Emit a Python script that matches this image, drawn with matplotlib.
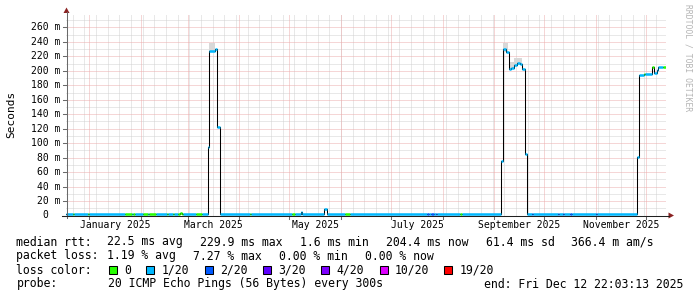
import matplotlib
matplotlib.use("Agg")
import matplotlib.pyplot as plt
import matplotlib.dates as mdates
from matplotlib.transforms import IdentityTransform, blended_transform_factory
from matplotlib.lines import Line2D
from matplotlib.patches import Rectangle, Polygon
import numpy as np
import pandas as pd

W, H = 697, 297
MONO = "DejaVu Sans Mono"

# time range of the graph (last 360 days)
t_start = pd.Timestamp("2024-12-17 22:03:13")
t_end = pd.Timestamp("2025-12-12 22:03:13")

# loss colours (smokeping defaults)
loss_colors = ["#26ff00", "#00b8ff", "#0059ff", "#5e00ff", "#7e00ff", "#dd00ff", "#ff0000"]
loss_labels = ["0", "1/20", "2/20", "3/20", "4/20", "10/20", "19/20"]

# median rtt as steps: start time, median (ms), loss level
step_time = [
    "2024-12-17 22:03", "2024-12-22 05:00", "2024-12-22 19:00", "2024-12-31 05:00",
    "2024-12-31 19:00", "2025-01-22 14:00", "2025-01-26 14:00", "2025-01-27 05:00",
    "2025-01-28 05:00", "2025-02-02 05:00", "2025-02-05 00:00", "2025-02-05 19:00",
    "2025-02-10 05:00", "2025-02-16 19:00", "2025-02-17 10:00", "2025-02-20 10:00",
    "2025-02-21 00:00", "2025-02-23 05:00", "2025-02-24 02:00", "2025-02-25 14:00",
    "2025-02-26 05:00", "2025-03-05 19:00", "2025-03-09 19:00", "2025-03-13 00:00",
    "2025-03-14 00:00", "2025-03-17 10:00", "2025-03-18 19:00", "2025-03-20 05:00",
    "2025-04-07 10:00", "2025-04-08 00:00", "2025-05-02 14:00", "2025-05-04 10:00",
    "2025-05-08 00:00", "2025-05-08 19:00", "2025-05-21 19:00", "2025-05-23 19:00",
    "2025-06-03 10:00", "2025-06-06 10:00", "2025-07-22 19:00", "2025-07-23 19:00",
    "2025-07-24 19:00", "2025-07-26 19:00", "2025-07-27 19:00", "2025-07-28 19:00",
    "2025-08-11 14:00", "2025-08-12 10:00", "2025-09-05 05:00", "2025-09-06 00:00",
    "2025-09-08 05:00", "2025-09-09 19:00", "2025-09-11 05:00", "2025-09-12 14:00",
    "2025-09-14 14:00", "2025-09-16 10:00", "2025-09-17 14:00", "2025-09-19 05:00",
    "2025-09-20 14:00", "2025-09-23 19:00", "2025-09-24 10:00", "2025-10-09 05:00",
    "2025-10-09 19:00", "2025-10-12 05:00", "2025-10-12 19:00", "2025-10-16 10:00",
    "2025-10-17 14:00", "2025-11-01 05:00", "2025-11-01 19:00", "2025-11-25 10:00",
    "2025-11-26 14:00", "2025-11-30 00:00", "2025-11-30 14:00", "2025-12-04 14:00",
    "2025-12-06 00:00", "2025-12-07 10:00", "2025-12-08 10:00", "2025-12-11 10:00",
]
step_median = [
    2.0, 2.0, 2.0, 2.0,
    2.0, 2.0, 2.0, 2.0,
    2.0, 2.0, 2.0, 2.0,
    2.0, 2.0, 2.0, 2.0,
    2.0, 2.0, 4.0, 2.0,
    2.0, 2.0, 2.0, 95.0,
    227.0, 230.0, 123.0, 2.0,
    2.0, 2.0, 2.0, 2.0,
    5.0, 2.0, 9.0, 2.0,
    2.0, 2.0, 2.0, 2.0,
    2.0, 2.0, 2.0, 2.0,
    2.0, 2.0, 75.0, 230.0,
    226.0, 202.0, 204.0, 208.0,
    211.0, 210.0, 203.0, 85.0,
    2.0, 2.0, 2.0, 2.0,
    2.0, 2.0, 2.0, 2.0,
    2.0, 2.0, 2.0, 81.0,
    194.5, 195.5, 195.5, 205.0,
    196.5, 201.0, 205.0, 205.5,
]
step_loss = [
    1, 0, 1, 0,
    1, 0, 1, 0,
    1, 0, 1, 0,
    1, 0, 1, 0,
    1, 0, 0, 0,
    1, 0, 1, 1,
    1, 1, 1, 1,
    0, 1, 0, 1,
    1, 1, 1, 1,
    0, 1, 2, 1,
    2, 1, 2, 1,
    0, 1, 1, 1,
    1, 1, 1, 1,
    1, 1, 1, 1,
    1, 2, 1, 2,
    1, 2, 1, 2,
    1, 2, 1, 1,
    1, 0, 1, 0,
    1, 1, 1, 0,
]

# smoke (spread of the pings) above the median
smoke_from = ["2025-03-14 00:00", "2025-09-06 00:00", "2025-09-09 19:00", "2025-09-12 14:00"]
smoke_to = ["2025-03-17 10:00", "2025-09-09 00:00", "2025-09-12 14:00", "2025-09-17 14:00"]
smoke_low = [227.0, 226.0, 202.0, 208.0]
smoke_high = [238.0, 239.0, 212.0, 218.0]

# month names shown on the time axis
label_months = ["2025-01", "2025-03", "2025-05", "2025-07", "2025-09", "2025-11"]

fig = plt.figure(figsize=(W / 100, H / 100), dpi=100, facecolor="white")
px_per_ms = 188 / 260.0
ymax = 202 / px_per_ms
ax = fig.add_axes([66 / W, (H - 215.5) / H, 600 / W, 202 / H])
ax.set_axis_off()
x0 = mdates.date2num(t_start)
x1 = mdates.date2num(t_end)
ax.set_xlim(x0, x1)
ax.set_ylim(0, ymax)
pix = IdentityTransform()

# grid: fine dotted lines
dot = (0, (1, 1))
gkw = dict(linestyles=dot, lw=0.72)
weeks = mdates.date2num(pd.date_range(t_start.normalize(), t_end, freq="W-SUN"))
months = mdates.date2num(pd.date_range("2025-01-01", t_end, freq="MS"))
minor_y = [v for v in range(10, int(ymax) + 1, 10) if v % 20]
major_y = [v for v in range(20, int(ymax) + 1, 20)]
ax.vlines(weeks, 0, ymax, colors="#d2d2d2", zorder=1, **gkw)
ax.hlines(minor_y, x0, x1 + 1.5, colors="#d2d2d2", zorder=1, **gkw)
ax.vlines(months, 0, ymax, colors="#ecaeae", zorder=1.5, **gkw)
ax.hlines(major_y, x0, x1 + 1.5, colors="#ecaeae", zorder=1.5, **gkw)

# smoke
for a, b, lo, hi in zip(smoke_from, smoke_to, smoke_low, smoke_high):
    ax.fill_between([mdates.date2num(pd.Timestamp(a)), mdates.date2num(pd.Timestamp(b))],
                    lo, hi, color="#d8d8d8", lw=0, zorder=2)

# median line
t = mdates.date2num(pd.to_datetime(step_time))
t_next = np.append(t[1:], x1)
ax.step(np.append(t, x1), step_median + [step_median[-1]], where="post",
        color="black", lw=0.75, zorder=3)
ax.hlines(step_median, t, t_next, colors=[loss_colors[i] for i in step_loss],
          lw=1.8, zorder=4)

# axes lines and arrows
fig.add_artist(Line2D([66.5, 66.5], [H - 218, H - 12], color="#6a6a6a", lw=0.75, transform=pix))
fig.add_artist(Line2D([62, 669], [H - 215.5, H - 215.5], color="#202020", lw=0.75, transform=pix))
fig.add_artist(Polygon([[63.5, H - 13], [69.5, H - 13], [66.5, H - 7.5]], closed=True,
                       color="#8b2323", lw=0, transform=pix))
fig.add_artist(Polygon([[668.5, H - 212.5], [668.5, H - 218.5], [674, H - 215.5]], closed=True,
                       color="#8b2323", lw=0, transform=pix))

# tick marks and labels
ytr = blended_transform_factory(pix, ax.transData)
for v in range(0, 261, 20):
    ax.add_line(Line2D([63, 66.5], [v, v], color="#6a6a6a", lw=0.75, transform=ytr, clip_on=False))
    if v == 0:
        ax.text(48.5, v, "0", transform=ytr, ha="right", va="center", fontsize=7, family=MONO)
    else:
        ax.text(60.5, v, f"{v} m", transform=ytr, ha="right", va="center", fontsize=7, family=MONO)

xtr = blended_transform_factory(ax.transData, pix)
for m in months:
    ax.add_line(Line2D([m, m], [H - 215.5, H - 218.5], color="#6a6a6a", lw=0.75,
                       transform=xtr, clip_on=False))
for lm in label_months:
    ms = pd.Timestamp(lm + "-01")
    mid = ms + pd.Timedelta(days=ms.days_in_month / 2)
    ax.text(mdates.date2num(mid), H - 225, ms.strftime("%B %Y"), transform=xtr,
            ha="center", va="center", fontsize=7, family=MONO)

fig.text(11, H - 114, "Seconds", transform=pix, rotation=90, ha="center", va="center",
         fontsize=8, family=MONO)
fig.text(688, H - 4, "RRDTOOL / TOBI OETIKER", transform=pix, rotation=270, ha="center",
         va="top", fontsize=5.8, family=MONO, color="#b4b4b4")

# legend
fs = 8.3
line1 = ["median rtt:", "22.5 ms avg", "229.9 ms max", "1.6 ms min", "204.4 ms now",
         "61.4 ms sd", "366.4 m am/s"]
line1_x = [16.5, 107.2, 200.1, 299.9, 385.7, 485.6, 571.4]
line2 = ["packet loss:", "1.19 % avg", "7.27 % max", "0.00 % min", "0.00 % now"]
line2_x = [16.5, 107.2, 193.1, 278.9, 364.8]
for s, x in zip(line1, line1_x):
    fig.text(x, H - 245.5, s, transform=pix, fontsize=fs, family=MONO, va="baseline")
for s, x in zip(line2, line2_x):
    fig.text(x, H - 259.5, s, transform=pix, fontsize=fs, family=MONO, va="baseline")

fig.text(16.5, H - 273.5, "loss color:", transform=pix, fontsize=fs, family=MONO, va="baseline")
box_x = [108.5, 146.0, 204.5, 263.0, 321.0, 379.5, 444.0]
for bx, c, lab in zip(box_x, loss_colors, loss_labels):
    fig.add_artist(Rectangle((bx, H - 274), 8, 8, facecolor=c, edgecolor="black",
                             lw=0.75, transform=pix))
    fig.text(bx + 15.5, H - 273.5, lab, transform=pix, fontsize=fs, family=MONO, va="baseline")

fig.text(16.5, H - 287.5, "probe:", transform=pix, fontsize=fs, family=MONO, va="baseline")
fig.text(108.5, H - 287.5, "20 ICMP Echo Pings (56 Bytes) every 300s", transform=pix,
         fontsize=fs, family=MONO, va="baseline")
fig.text(683, H - 287.5, "end: Fri Dec 12 22:03:13 2025", transform=pix, fontsize=fs,
         family=MONO, va="baseline", ha="right")

fig.savefig("out.png", dpi=100, facecolor="white")
